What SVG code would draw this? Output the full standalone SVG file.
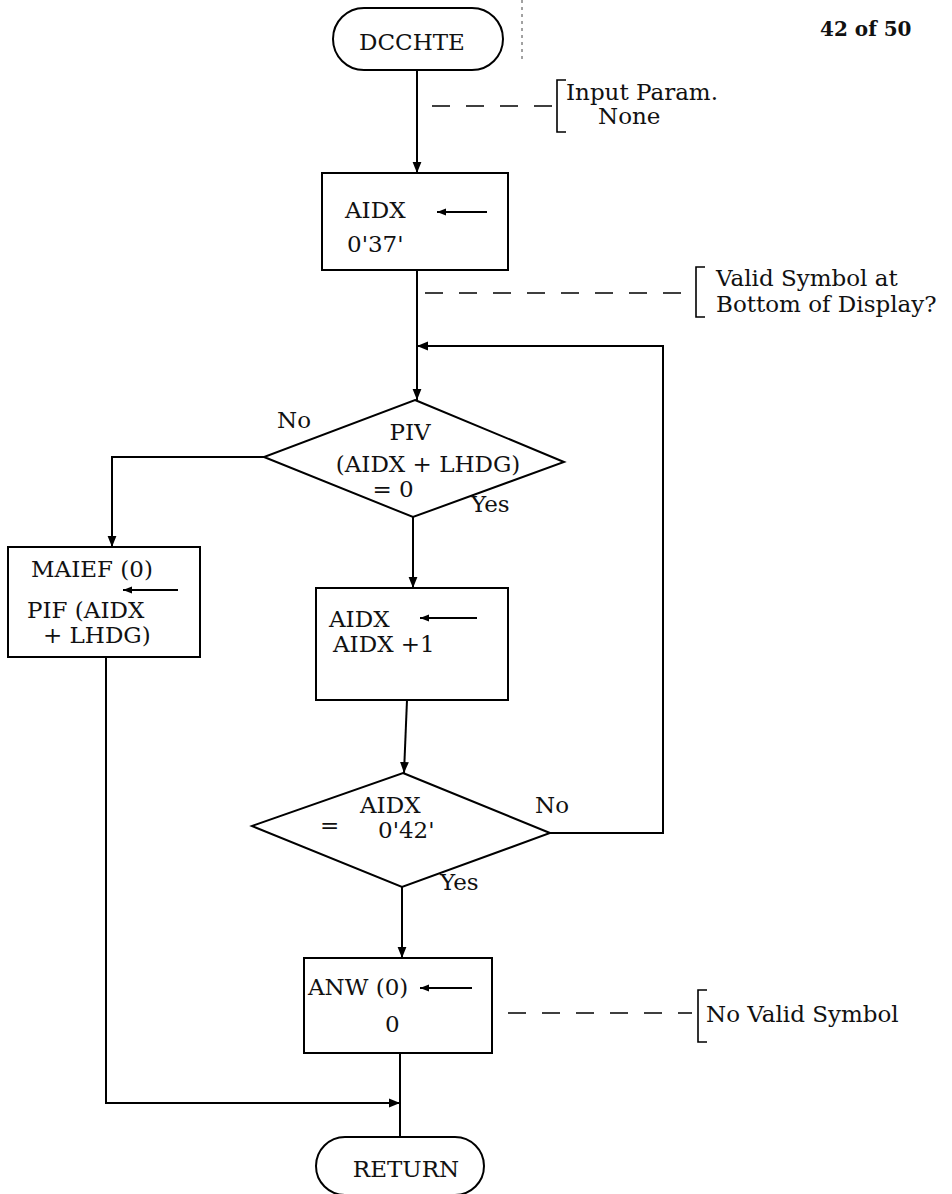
<svg xmlns="http://www.w3.org/2000/svg" width="952" height="1194" viewBox="0 0 952 1194">
<style>
.s{fill:none;stroke:#000;stroke-width:2}
.b{fill:none;stroke:#000;stroke-width:1.6}
.n{fill:#fff;stroke:#000;stroke-width:2}
.d{fill:none;stroke:#000;stroke-width:1.6;stroke-dasharray:18 16}
.t{font-family:"DejaVu Serif","Liberation Serif",serif;font-size:23px;fill:#111}
.c{text-anchor:middle}
</style>
<defs>
<marker id="a" viewBox="0 0 10 10" refX="10" refY="5" markerWidth="11" markerHeight="11" markerUnits="userSpaceOnUse" orient="auto">
<path d="M0,1 L10,5 L0,9 Z" fill="#000"/>
</marker>
<marker id="h" viewBox="0 0 10 10" refX="10" refY="5" markerWidth="13" markerHeight="9" markerUnits="userSpaceOnUse" orient="auto">
<path d="M0,1 L10,5 L0,9 Z" fill="#000"/>
</marker>
</defs>
<rect width="952" height="1194" fill="#fff"/>
<line x1="522" y1="0" x2="522" y2="60" stroke="#444" stroke-width="1" stroke-dasharray="3 4"/>
<g id="connectors">
<line class="s" x1="417" y1="70" x2="417" y2="173" marker-end="url(#a)"/>
<line class="s" x1="417" y1="270" x2="417" y2="400" marker-end="url(#a)"/>
<polyline class="s" points="550,833 663,833 663,346 417,346" marker-end="url(#a)"/>
<polyline class="s" points="264,457 112,457 112,547" marker-end="url(#a)"/>
<line class="s" x1="413" y1="517" x2="413" y2="588" marker-end="url(#a)"/>
<line class="s" x1="407" y1="700" x2="404" y2="773" marker-end="url(#a)"/>
<line class="s" x1="402" y1="887" x2="402" y2="958" marker-end="url(#a)"/>
<line class="s" x1="400" y1="1053" x2="400" y2="1137"/>
<polyline class="s" points="106,657 106,1103 400,1103" marker-end="url(#a)"/>
</g>
<g id="start">
<rect class="n" x="333" y="8" width="170" height="62" rx="31"/>
<text class="t c" x="412" y="50">DCCHTE</text>
</g>
<text x="820" y="36" style="font-family:'DejaVu Serif',serif;font-weight:bold;font-size:20px;fill:#111">42 of 50</text>
<g id="note-input">
<line class="d" x1="432" y1="106" x2="552" y2="106"/>
<polyline class="b" points="566,80 557,80 557,132 566,132"/>
<text class="t" x="566" y="100">Input Param.</text>
<text class="t" x="598" y="124">None</text>
</g>
<g id="box1">
<rect class="n" x="322" y="173" width="186" height="97"/>
<text class="t" x="345" y="218">AIDX</text>
<line class="s" x1="487" y1="212" x2="437" y2="212" marker-end="url(#h)"/>
<text class="t" x="347" y="252">0'37'</text>
</g>
<g id="note-valid">
<line class="d" x1="425" y1="293" x2="690" y2="293"/>
<polyline class="b" points="705,267 696,267 696,317 705,317"/>
<text class="t" x="716" y="286">Valid Symbol at</text>
<text class="t" x="716" y="312">Bottom of Display?</text>
</g>
<g id="dec1">
<polygon class="n" points="415,400 564,462 413,517 264,457"/>
<text class="t c" x="410" y="440">PIV</text>
<text class="t c" x="428" y="472">(AIDX + LHDG)</text>
<text class="t c" x="393" y="497">= 0</text>
<text class="t" x="277" y="428">No</text>
<text class="t" x="471" y="512">Yes</text>
</g>
<g id="box-maief">
<rect class="n" x="8" y="547" width="192" height="110"/>
<text class="t" x="31" y="577">MAIEF (0)</text>
<line class="s" x1="178" y1="590" x2="123" y2="590" marker-end="url(#h)"/>
<text class="t" x="27" y="618">PIF (AIDX</text>
<text class="t" x="43" y="643">+ LHDG)</text>
</g>
<g id="box2">
<rect class="n" x="316" y="588" width="192" height="112"/>
<text class="t" x="329" y="627">AIDX</text>
<line class="s" x1="477" y1="618" x2="420" y2="618" marker-end="url(#h)"/>
<text class="t" x="333" y="652">AIDX +1</text>
</g>
<g id="dec2">
<polygon class="n" points="403,773 550,833 402,887 252,826"/>
<text class="t" x="360" y="813">AIDX</text>
<text class="t" x="320" y="833">=</text>
<text class="t" x="378" y="838">0'42'</text>
<text class="t" x="535" y="813">No</text>
<text class="t" x="440" y="890">Yes</text>
</g>
<g id="box3">
<rect class="n" x="304" y="958" width="188" height="95"/>
<text class="t" x="308" y="995">ANW (0)</text>
<line class="s" x1="472" y1="988" x2="420" y2="988" marker-end="url(#h)"/>
<text class="t" x="385" y="1032">0</text>
</g>
<g id="note-novalid">
<line class="d" x1="508" y1="1013" x2="692" y2="1013"/>
<polyline class="b" points="707,990 698,990 698,1042 707,1042"/>
<text class="t" x="706" y="1022">No Valid Symbol</text>
</g>
<g id="end">
<rect class="n" x="316" y="1137" width="168" height="58" rx="29"/>
<text class="t c" x="406" y="1177">RETURN</text>
</g>
</svg>
